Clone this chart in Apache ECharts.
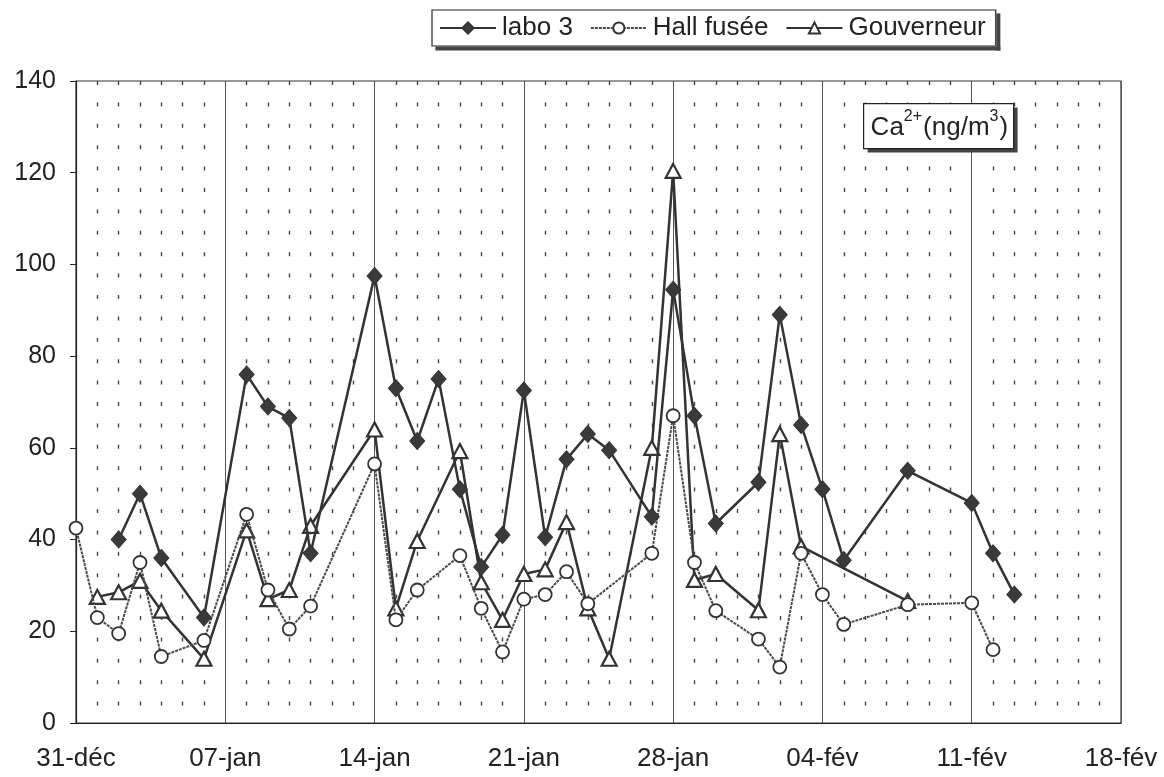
<!DOCTYPE html>
<html>
<head>
<meta charset="utf-8">
<script src="https://cdn.jsdelivr.net/npm/echarts@6/dist/echarts.min.js"></script>
<style>
html,body{margin:0;padding:0;background:#fff;}
#chart{width:1164px;height:777px;}
</style>
</head>
<body>
<div id="chart"></div>
<script>
// x positions are day offsets from 31-déc
const xTickLabels = ['31-déc','07-jan','14-jan','21-jan','28-jan','04-fév','11-fév','18-fév'];
const seriesNames = ['labo 3','Hall fusée','Gouverneur'];

const labo3Days   = [2,3,4,6,8,9,10,11,14,15,16,17,18,19,20,21,22,23,24,25,27,28,29,30,32,33,34,35,36,39,42,43,44];
const labo3Values = [40,50,36,23,76,69,66.5,37,97.5,73,61.5,75,51,34,41,72.5,40.5,57.5,63,59.5,45,94.5,67,43.5,52.5,89,65,51,35.5,55,48,37,28];

const hallDays   = [0,1,2,3,4,6,8,9,10,11,14,15,16,18,19,20,21,22,23,24,27,28,29,30,32,33,34,35,36,39,42,43];
const hallValues = [42.5,23,19.5,35,14.5,18,45.5,29,20.5,25.5,56.5,22.5,29,36.5,25,15.5,27,28,33,26,37,67,35,24.5,18.3,12.2,37,28,21.5,25.8,26.2,16];

const gouvDays   = [1,2,3,4,6,8,9,10,11,14,15,16,18,19,20,21,22,23,24,25,27,28,29,30,32,33,34,39];
const gouvValues = [27.5,28.5,31,24.5,14,42,27,29,43,64,25,39.7,59.3,30.7,22.5,32.5,33.5,43.8,25,14,60,120.4,31.2,32.5,24.6,63,38.5,26.6];

const unitLabelParts = [['Ca',false],['2+',true],['(ng/m',false],['3',true],[')',false]];

function pairs(days, vals){ return days.map((d,i)=>[d, vals[i]]); }

const FONT = "'Liberation Sans', Arial, sans-serif";
const DARK = '#333';

// build unit label (with superscripts) as separate text pieces
const mctx = document.createElement('canvas').getContext('2d');
function measure(t, size){ mctx.font = size + 'px ' + FONT; return mctx.measureText(t).width; }
const unitPieces = [];
let ux = 7;
unitLabelParts.forEach(function(p){
  const size = p[1] ? 16 : 26;
  unitPieces.push({type:'text', x:ux, y:p[1] ? 5 : 11, z:102, style:{
    text:p[0], fontSize:size, fontFamily:FONT, fill:'#222', verticalAlign:'top', align:'left'
  }});
  ux += measure(p[0], size) + (p[1] ? 1 : 0);
});

const chart = echarts.init(document.getElementById('chart'), null, {renderer:'canvas'});
chart.setOption({
  animation:false,
  backgroundColor:'#fff',
  textStyle:{fontFamily:FONT},
  grid:{left:76, right:43, top:81, bottom:54, show:true, borderColor:'#333', borderWidth:1.2, backgroundColor:'transparent'},
  legend:{
    left:432, top:10, z:10,
    data:seriesNames,
    itemWidth:56, itemHeight:14, itemGap:17,
    padding:[5,10,5,7],
    backgroundColor:'#fff',
    borderColor:'#222', borderWidth:1.2, borderRadius:0,
    textStyle:{fontSize:26, color:'#222', fontFamily:FONT, padding:[0,0,0,1]}
  },
  xAxis:{
    type:'value', min:0, max:49, interval:7,
    axisLine:{show:true, lineStyle:{color:'#222', width:1.2}},
    axisTick:{show:false},
    axisLabel:{fontSize:26, color:'#222', margin:23, fontFamily:FONT, showMinLabel:true, showMaxLabel:true,
      formatter:function(v){ return xTickLabels[Math.round(v/7)] || ''; }},
    splitLine:{show:true, lineStyle:{color:'#555', width:1}},
    minorTick:{show:false, splitNumber:7},
    minorSplitLine:{show:true, lineStyle:{color:'#444', width:1.4, type:[4,17.4]}}
  },
  yAxis:{
    type:'value', min:0, max:140, interval:20,
    axisLine:{show:true, lineStyle:{color:'#222', width:1.2}},
    axisTick:{show:true, inside:false, length:6, lineStyle:{color:'#222'}},
    axisLabel:{fontSize:25, color:'#222', margin:20, fontFamily:FONT},
    splitLine:{show:false}
  },
  series:[
    {
      name:seriesNames[2], type:'line', z:3,
      data:pairs(gouvDays, gouvValues),
      connectNulls:true,
      symbol:'triangle', symbolSize:[15,14], showAllSymbol:true,
      lineStyle:{color:DARK, width:2.5},
      itemStyle:{color:'#fff', borderColor:DARK, borderWidth:2.2}
    },
    {
      name:seriesNames[1], type:'line', z:4,
      data:pairs(hallDays, hallValues),
      connectNulls:true,
      symbol:'circle', symbolSize:13, showAllSymbol:true,
      lineStyle:{color:'#4a4a4a', width:2, type:[3,1]},
      itemStyle:{color:'#fff', borderColor:DARK, borderWidth:1.8}
    },
    {
      name:seriesNames[0], type:'line', z:5,
      data:pairs(labo3Days, labo3Values),
      connectNulls:true,
      symbol:'diamond', symbolSize:[15,17], showAllSymbol:true,
      lineStyle:{color:DARK, width:2.5},
      itemStyle:{color:'#3a3a3a', borderColor:DARK, borderWidth:1}
    }
  ],
  graphic:{elements:[
    {
      id:'unitBox', type:'group', left:863, top:103, z:100,
      children:[
        {type:'rect', z:100, shape:{x:4, y:4, width:150, height:45}, style:{fill:'#444'}},
        {type:'rect', z:101, shape:{x:0, y:0, width:150, height:45}, style:{fill:'#fff', stroke:'#222', lineWidth:1.2}}
      ].concat(unitPieces)
    }
  ]}
});

// drop shadow of the legend box: two dark strips along its right and bottom edges
let lb = {x:432, y:10, w:564, h:37};
try {
  const views = chart._componentsViews || [];
  const lv = views.find(function(v){ return v && v.type && String(v.type).indexOf('legend') === 0; });
  if (lv && lv.group) {
    const br = lv.group.getBoundingRect();
    if (br && br.width > 100) lb = {x:lv.group.x + br.x, y:lv.group.y + br.y, w:br.width, h:br.height};
  }
} catch(e) {}
const S = 4;
chart.setOption({graphic:{elements:[
  {id:'legShadowR', type:'rect', z:20, shape:{x:lb.x + lb.w, y:lb.y + S, width:S, height:lb.h}, style:{fill:'#444'}},
  {id:'legShadowB', type:'rect', z:20, shape:{x:lb.x + S, y:lb.y + lb.h, width:lb.w, height:S}, style:{fill:'#444'}}
]}});
</script>
</body>
</html>
